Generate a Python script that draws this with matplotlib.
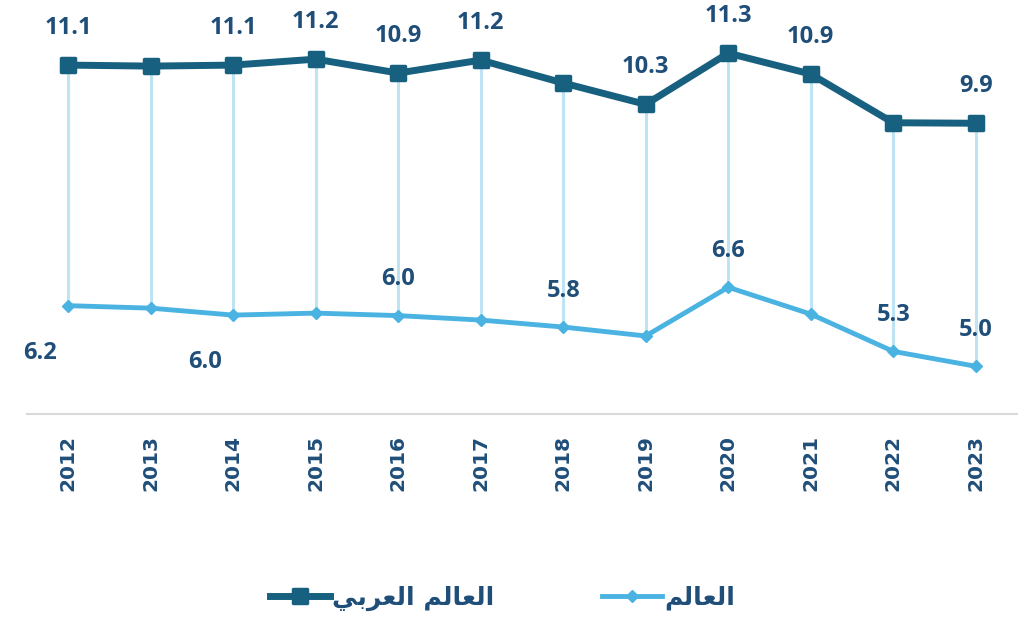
import matplotlib
matplotlib.use("Agg")
import matplotlib.pyplot as plt
from matplotlib.markers import MarkerStyle

years = ["2012", "2013", "2014", "2015", "2016", "2017",
         "2018", "2019", "2020", "2021", "2022", "2023"]
arab = [11.06, 11.04, 11.06, 11.18, 10.9, 11.16, 10.7, 10.27, 11.3, 10.88, 9.9, 9.89]
world = [6.22, 6.17, 6.03, 6.07, 6.02, 5.93, 5.79, 5.61, 6.59, 6.05, 5.3, 5.0]

# which points get a value label
arab_labeled = [0, 2, 3, 4, 5, 7, 8, 9, 11]
world_labeled = [0, 2, 4, 6, 8, 10, 11]
world_below = [0, 2]

# arabic legend text, pre-shaped presentation forms in visual order
lbl_arab = "\uFEF2\uFE91\uFEAE\uFECC\uFEDF\uFE8D \uFEE2\uFEDF\uFE8E\uFECC\uFEDF\uFE8D"
lbl_world = "\uFEE2\uFEDF\uFE8E\uFECC\uFEDF\uFE8D"

dark = "#17607f"
light = "#4ab3e2"
pale = "#bee4f4"
txt = "#1f4e79"

fig = plt.figure(figsize=(10.32, 6.17), dpi=100)
ax = fig.add_axes([0.026, 0.329, 0.9595, 0.671])

x = list(range(len(years)))
ax.vlines(x, world, arab, color=pale, lw=2.2, zorder=1)

sq = MarkerStyle("s", joinstyle="round")
ax.plot(x, arab, color=dark, lw=5, marker=sq, ms=9.5, mew=2.5,
        solid_joinstyle="round", clip_on=False, zorder=3, label=lbl_arab)
ax.plot(x, world, color=light, lw=3.5, marker="D", ms=6.5,
        clip_on=False, zorder=2, label=lbl_world)

for i in arab_labeled:
    ax.annotate(f"{arab[i]:.1f}", (i, arab[i]), xytext=(0, 27),
                textcoords="offset points", ha="center", va="center",
                fontsize=17, fontweight="bold", color=txt, family="Open Sans")
for i in world_labeled:
    off = (-20, -34) if i in world_below else (0, 26)
    ax.annotate(f"{world[i]:.1f}", (i, world[i]), xytext=off,
                textcoords="offset points", ha="center", va="center",
                fontsize=17, fontweight="bold", color=txt, family="Open Sans")

ax.set_xlim(-0.5, 11.5)
ax.set_ylim(4.04, 12.37)
ax.set_xticks(x)
ax.set_xticklabels(years, rotation=90, fontsize=14.5, fontweight="bold", color=txt)
ax.tick_params(axis="x", length=0, pad=15)
ax.set_yticks([])
for s in ["top", "left", "right"]:
    ax.spines[s].set_visible(False)
ax.spines["bottom"].set_color("#d9d9d9")
ax.spines["bottom"].set_linewidth(1.5)

leg = fig.legend(loc="center", bbox_to_anchor=(0.487, 0.03), ncol=2, frameon=False,
                 handlelength=2.4, handletextpad=0.1, columnspacing=4.3,
                 prop={"family": "DejaVu Sans", "weight": "bold", "size": 18})
for t in leg.get_texts():
    t.set_color(txt)

fig.savefig("out.png", dpi=100)
